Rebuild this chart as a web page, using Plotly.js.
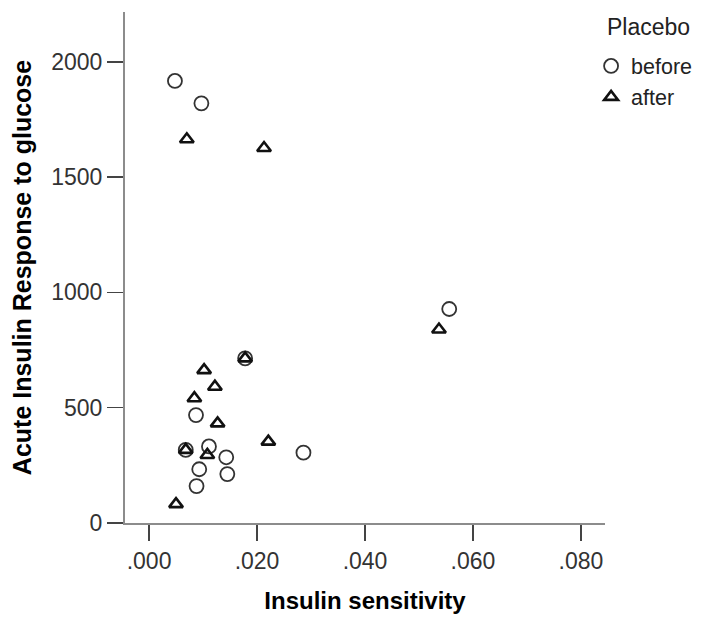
<!DOCTYPE html>
<html>
<head>
<meta charset="utf-8">
<script src="https://cdn.plot.ly/plotly-3.0.1.min.js"></script>
<style>html,body{margin:0;padding:0;background:#fff;}#chart{width:702px;height:621px;}</style>
</head>
<body>
<div id="chart"></div>
<script>
// Insulin sensitivity (x) and Acute Insulin Response to glucose (y)
var beforeX = [0.0048, 0.0097, 0.0556, 0.0178, 0.0087, 0.0068, 0.0111, 0.0143, 0.0093, 0.0145, 0.0088, 0.0286];
var beforeY = [1917, 1820, 928, 714, 468, 317, 332, 285, 233, 212, 160, 305];
var afterX = [0.0070, 0.0213, 0.0537, 0.0178, 0.0102, 0.0122, 0.0084, 0.0127, 0.0068, 0.0108, 0.0221, 0.0050];
var afterY = [1664, 1626, 839, 714, 663, 591, 541, 432, 317, 295, 353, 82];

var xTickVals = [0, 0.02, 0.04, 0.06, 0.08];
var xTickText = ['.000', '.020', '.040', '.060', '.080'];
var yTickVals = [0, 500, 1000, 1500, 2000];
var yTickText = ['0', '500', '1000', '1500', '2000'];
var legendTitle = 'Placebo';

var FONT = '"Liberation Sans", Arial, sans-serif';

var traces = [
  {
    type: 'scatter', mode: 'markers', name: 'before',
    x: beforeX, y: beforeY,
    marker: {symbol: 'circle-open', size: 14, color: '#333333', line: {width: 1.8, color: '#333333'}}
  },
  {
    type: 'scatter', mode: 'markers', name: 'after',
    x: afterX, y: afterY,
    marker: {symbol: 'triangle-up-open', size: 12, color: '#111111', line: {width: 2.6, color: '#111111'}}
  }
];

var layout = {
  width: 702, height: 621,
  margin: {l: 125, r: 97, t: 12, b: 98, pad: 0, autoexpand: false},
  paper_bgcolor: '#ffffff', plot_bgcolor: '#ffffff',
  font: {family: FONT, size: 23, color: '#333333'},
  showlegend: true,
  legend: {
    x: 0.971, xanchor: 'left', y: 0.9345, yanchor: 'top',
    bgcolor: 'rgba(0,0,0,0)', borderwidth: 0,
    font: {family: FONT, size: 21.5, color: '#222222'},
    tracegroupgap: 0
  },
  annotations: [{
    text: legendTitle, xref: 'paper', yref: 'paper',
    x: 1.0, xanchor: 'left', y: 0.9706, yanchor: 'middle',
    showarrow: false, font: {family: FONT, size: 23, color: '#222222'}
  }],
  xaxis: {
    range: [-0.00445, 0.08445],
    tickvals: xTickVals, ticktext: xTickText,
    ticks: 'outside', ticklen: 16, tickwidth: 1.5, tickcolor: '#444444',
    showline: true, linecolor: '#8c8c8c', linewidth: 2,
    showgrid: false, zeroline: false,
    tickfont: {family: FONT, size: 23, color: '#333333'},
    title: {text: 'Insulin sensitivity', standoff: 20, font: {family: FONT, size: 24, color: '#000000', weight: 'bold'}}
  },
  yaxis: {
    range: [0, 2216],
    tickvals: yTickVals, ticktext: yTickText,
    ticks: 'outside', ticklen: 16, tickwidth: 1.5, tickcolor: '#444444',
    showline: true, linecolor: '#8c8c8c', linewidth: 2,
    showgrid: false, zeroline: false,
    tickfont: {family: FONT, size: 23, color: '#333333'},
    title: {text: 'Acute Insulin Response to glucose', standoff: 12, font: {family: FONT, size: 25, color: '#000000', weight: 'bold'}}
  }
};

Plotly.newPlot('chart', traces, layout, {displayModeBar: false, staticPlot: true});
</script>
</body>
</html>
